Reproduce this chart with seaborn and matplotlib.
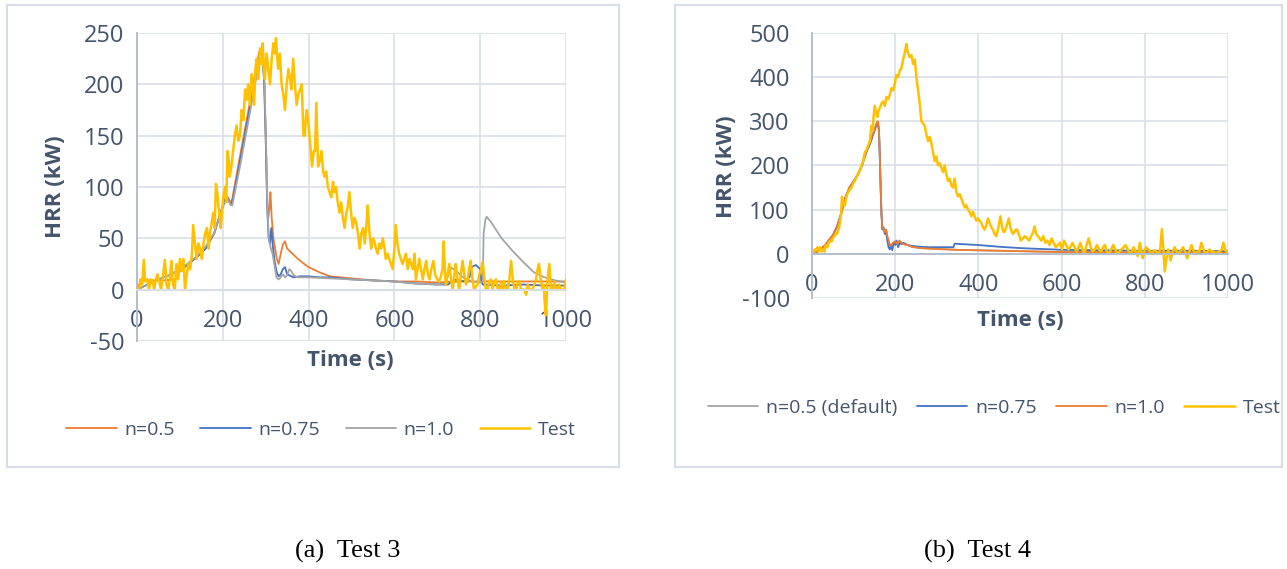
import matplotlib
matplotlib.use("Agg")
import matplotlib.pyplot as plt
from matplotlib.patches import Rectangle
import seaborn as sns
import numpy as np

# ---------------- DATA: Test 3 ----------------
t3_test_time = [0, 5, 8, 12, 16, 19, 24, 28, 32, 36, 40, 44, 48, 52, 56, 60, 65, 69, 73, 77, 80, 84, 88, 92, 96,
                100, 104, 108, 112, 116, 120, 124, 128, 131, 135, 139, 143, 147, 151, 155, 159, 163, 167, 170, 174,
                178, 181, 184, 187, 190, 193, 195, 198, 201, 205, 208, 211, 214, 216, 220, 224, 228, 232, 236, 240,
                244, 248, 252, 256, 259, 263, 267, 270, 273, 276, 279, 283, 287, 290, 293, 296, 298, 302, 306, 310,
                314, 318, 321, 324, 327, 329, 333, 337, 341, 345, 349, 353, 357, 360, 364, 368, 372, 376, 380, 384,
                388, 391, 394, 396, 400, 404, 408, 412, 415, 418, 422, 426, 430, 434, 437, 441, 445, 449, 453, 457,
                460, 464, 468, 472, 476, 480, 484, 488, 491, 495, 499, 503, 507, 511, 515, 519, 523, 527, 531, 535,
                538, 542, 546, 550, 553, 557, 561, 565, 569, 573, 577, 580, 584, 588, 592, 596, 600, 603, 607, 611,
                615, 619, 623, 627, 631, 635, 639, 643, 647, 650, 654, 658, 662, 666, 670, 674, 678, 682, 686, 691,
                695, 700, 704, 708, 712, 715, 718, 720, 724, 728, 732, 736, 740, 743, 747, 751, 755, 759, 763, 767,
                771, 774, 778, 782, 786, 790, 794, 798, 802, 806, 810, 813, 817, 821, 825, 829, 833, 837, 841, 845,
                849, 852, 856, 860, 864, 868, 872, 876, 880, 884, 888, 892, 895, 899, 903, 907, 911, 914, 918, 922,
                926, 930, 934, 937, 941, 945, 948, 950, 953, 957, 961, 965, 969, 973, 977, 980, 984, 988, 992, 996,
                1000]
t3_test = [0, 0, 10, 5, 29, 8, 10, 0, 10, 9, 0, 10, 15, 8, 0, 12, 29, 5, 0, 12, 28, 5, 0, 25, 10,
           30, 18, 30, 0, 15, 25, 20, 35, 63, 45, 30, 45, 40, 30, 45, 55, 60, 40, 55, 65,
           75, 60, 103, 95, 80, 70, 60, 75, 90, 100, 85, 135, 125, 110, 120, 135, 150, 160, 145, 150,
           175, 165, 195, 185, 200, 180, 210, 195, 180, 215, 225, 205, 235, 220, 240, 215, 205, 230, 215, 200,
           225, 240, 230, 245, 225, 215, 230, 200, 190, 175, 200, 215, 205, 195, 225, 200, 180, 190, 195, 200,
           150, 150, 170, 175, 160, 140, 120, 135, 135, 182, 120, 125, 135, 115, 110, 115, 100, 95, 90, 105,
           95, 100, 85, 75, 85, 70, 60, 75, 80, 95, 75, 60, 70, 65, 55, 40, 55, 60, 45, 65,
           82, 55, 40, 50, 48, 40, 35, 45, 40, 50, 40, 30, 35, 30, 25, 20, 40, 63, 45, 35,
           30, 25, 30, 35, 20, 30, 25, 20, 35, 10, 20, 30, 20, 10, 20, 28, 15, 10, 20, 28,
           15, 10, 8, 12, 20, 47, 15, 5, 15, 25, 10, 0, 15, 25, 10, 0, 15, 28, 15, 5,
           10, 20, 28, 10, 0, 3, 5, 15, 20, 27, 10, 0, 0, 8, 10, 0, 8, 10, 0, 0,
           8, 0, 8, 0, 0, 10, 28, 10, 0, 0, 8, 8, 0, 0, 0, -5, 5, 0, 0, 0,
           5, 10, 20, 25, 10, 0, 5, -10, -25, 10, 25, 0, 0, 8, 0, 0, 5, 0, 0, 0,
           10]

t3_n05_time = [0, 8, 12, 60, 90, 100, 120, 140, 160, 180, 195, 205, 212, 218, 222, 240, 260, 275, 285, 290,
               295, 300, 303, 306, 309, 311, 314, 318, 322, 326, 330, 335, 340, 345, 350, 360, 375, 390, 400,
               425, 450, 500, 550, 600, 650, 700, 750, 800, 850, 900, 950, 1000]
t3_n05 = [0, 8, 9, 9, 10, 18, 25, 32, 40, 55, 75, 88, 90, 85, 88, 130, 175, 210, 232, 230,
          215, 150, 90, 70, 80, 95, 70, 50, 40, 30, 25, 35, 44, 47, 40, 36, 30, 25, 22,
          17, 13, 11, 9, 8, 8, 7, 8, 8, 8, 8, 8, 8]

t3_n075_time = [0, 20, 50, 80, 100, 120, 140, 160, 180, 195, 205, 212, 218, 222, 240, 260, 275, 285, 292, 297,
                301, 304, 307, 310, 313, 316, 320, 325, 330, 335, 340, 345, 350, 355, 365, 380, 400, 425, 450,
                500, 550, 600, 650, 700, 725, 740, 760, 775, 780, 790, 800, 803, 806, 850, 900, 950, 1000]
t3_n075 = [0, 4, 10, 15, 20, 25, 32, 40, 55, 75, 88, 88, 83, 85, 125, 170, 205, 225, 228, 200,
           130, 75, 50, 45, 60, 45, 30, 18, 13, 15, 20, 22, 15, 14, 12, 13, 13, 12, 12,
           10, 9, 8, 6, 5, 5, 10, 8, 12, 22, 24, 20, 8, 5, 4, 5, 4, 4]

t3_n10_time = [0, 20, 50, 80, 100, 120, 140, 160, 180, 195, 205, 212, 218, 222, 240, 260, 275, 285, 292, 297,
               301, 304, 307, 312, 316, 320, 325, 330, 335, 340, 345, 350, 355, 360, 365, 375, 400, 450, 500,
               550, 600, 650, 700, 720, 730, 745, 760, 780, 800, 806, 808, 812, 815, 825, 850, 875, 900, 925,
               950, 975, 1000]
t3_n10 = [0, 4, 10, 15, 20, 26, 33, 42, 55, 75, 85, 88, 83, 82, 120, 165, 200, 220, 225, 205,
          140, 80, 50, 40, 35, 25, 12, 10, 12, 15, 12, 14, 20, 18, 14, 12, 12, 11, 10,
          9, 8, 6, 5, 6, 22, 18, 12, 8, 7, 8, 55, 68, 71, 66, 50, 38, 27, 17,
          12, 9, 7]

# ---------------- DATA: Test 4 ----------------
t4_test_time = [0, 4, 7, 10, 13, 16, 20, 23, 27, 30, 33, 37, 40, 44, 47, 50, 54, 57, 60, 64, 67, 70, 72, 75, 79,
                83, 87, 91, 95, 99, 103, 107, 111, 115, 119, 123, 127, 131, 135, 139, 141, 143, 146, 148, 151,
                154, 157, 160, 163, 167, 171, 175, 179, 183, 187, 191, 195, 199, 203, 207, 211, 215, 219, 223,
                227, 229, 231, 235, 239, 243, 247, 249, 251, 255, 259, 263, 267, 271, 275, 279, 283, 287, 291,
                295, 299, 303, 307, 311, 315, 319, 323, 327, 331, 335, 339, 343, 347, 351, 355, 359, 363, 367,
                371, 375, 379, 383, 387, 391, 395, 399, 403, 407, 411, 415, 419, 423, 427, 431, 435, 439, 443,
                447, 450, 453, 457, 460, 463, 467, 470, 473, 477, 480, 483, 487, 490, 493, 497, 502, 507, 512,
                517, 522, 527, 532, 535, 539, 543, 547, 551, 556, 561, 566, 571, 576, 581, 586, 591, 596, 601,
                606, 611, 616, 621, 626, 631, 636, 641, 645, 650, 655, 660, 665, 670, 675, 680, 685, 690, 695,
                700, 704, 709, 714, 719, 724, 729, 734, 739, 744, 749, 754, 759, 764, 769, 773, 778, 783, 788,
                792, 795, 799, 803, 808, 813, 818, 823, 828, 833, 837, 841, 844, 848, 852, 856, 859, 862, 867,
                872, 877, 882, 887, 892, 897, 902, 907, 912, 916, 921, 926, 931, 936, 941, 946, 951, 956, 961,
                966, 971, 976, 981, 985, 989, 993, 996, 1000]
t4_test = [0, 3, 10, 8, 15, 5, 15, 5, 10, 5, 20, 15, 25, 30, 28, 35, 40, 45, 45, 55, 70, 90, 129, 110, 110,
           130, 140, 145, 150, 160, 165, 175, 180, 190, 200, 210, 230, 235, 245, 255, 275, 290, 280, 310, 335,
           320, 310, 325, 330, 340, 345, 335, 355, 350, 360, 375, 370, 385, 405, 400, 415, 420, 440, 455,
           475, 460, 455, 445, 450, 430, 440, 420, 400, 370, 340, 300, 295, 290, 270, 255, 265, 250, 230,
           210, 220, 200, 205, 195, 185, 200, 180, 165, 170, 155, 150, 170, 140, 130, 135, 125, 115, 105,
           110, 100, 95, 85, 95, 85, 75, 80, 75, 70, 60, 55, 65, 80, 70, 60, 55, 45, 40,
           55, 70, 85, 60, 50, 50, 60, 70, 80, 60, 50, 45, 50, 55, 55, 45, 30, 35, 40,
           35, 30, 40, 50, 62, 45, 40, 35, 30, 40, 25, 30, 20, 35, 25, 15, 20, 25, 10,
           30, 20, 10, 15, 25, 15, 5, 15, 25, 10, 0, 20, 35, 15, 5, 10, 20, 10, 5,
           15, 20, 5, 0, 10, 20, 10, 0, 5, 10, 15, 20, 10, 0, 5, 15, 5, -5, 25,
           5, -10, 5, 15, 10, 5, 3, 8, 5, 0, 10, 56, 20, -40, -10, 10, 0, -15, 5,
           15, 5, 0, 8, 15, 5, -10, 5, 20, 10, 0, 5, 5, 25, 10, 0, 5, 10, 5,
           5, 0, 5, 5, 10, 25, 10, 5, 5]

t4_n10_time = [0, 10, 20, 30, 40, 50, 60, 70, 80, 90, 100, 110, 120, 130, 140, 150, 155, 158, 161, 163,
               165, 167, 169, 172, 175, 178, 181, 184, 187, 190, 195, 200, 205, 210, 215, 220, 230, 240, 260,
               280, 300, 350, 400, 450, 500, 600, 700, 800, 900, 1000]
t4_n10 = [0, 3, 10, 18, 30, 42, 60, 90, 125, 150, 163, 180, 200, 230, 255, 280, 295, 300, 280, 220,
          150, 90, 60, 55, 50, 55, 40, 30, 20, 18, 25, 28, 22, 30, 25, 22, 20, 16, 13,
          12, 11, 9, 8, 7, 6, 4, 4, 3, 3, 3]

t4_n05_time = t4_n10_time
t4_n05 = t4_n10

t4_n075_time = [0, 10, 20, 30, 40, 50, 60, 70, 80, 90, 100, 110, 120, 130, 140, 150, 155, 158, 161, 163,
                165, 167, 169, 172, 175, 178, 181, 184, 187, 190, 193, 196, 200, 203, 207, 211, 215, 220, 230,
                240, 260, 280, 300, 320, 340, 343, 360, 400, 450, 500, 550, 580, 600, 700, 800, 900, 1000]
t4_n075 = [0, 3, 10, 18, 30, 42, 62, 92, 128, 150, 165, 178, 200, 228, 250, 278, 292, 298, 280, 220,
           150, 90, 55, 60, 45, 50, 30, 15, 10, 20, 8, 25, 20, 30, 15, 25, 22, 25, 20,
           18, 16, 15, 15, 15, 15, 23, 22, 20, 16, 13, 11, 10, 9, 8, 7, 7, 6]

x_ticks = [0, 200, 400, 600, 800, 1000]
y_ticks_3 = [-50, 0, 50, 100, 150, 200, 250]
y_ticks_4 = [-100, 0, 100, 200, 300, 400, 500]

# ---------------- STYLE ----------------
sns.set_theme(style="white")
plt.rcParams['font.family'] = ['Open Sans', 'DejaVu Sans']

ORANGE = "#ED7D31"
BLUE = "#4472C4"
GRAY = "#A5A5A5"
GOLD = "#FFC000"
TXT = "#44546A"
GRID = "#D9DEE6"
AXIS = "#B4BECC"

W, H = 1287, 569
fig = plt.figure(figsize=(W / 100, H / 100), dpi=100)
fig.patch.set_facecolor("white")


def px_axes(x0, x1, y0, y1):
    return fig.add_axes([x0 / W, 1 - y1 / H, (x1 - x0) / W, (y1 - y0) / H])


def frame_box(x0, x1, y0, y1):
    fig.add_artist(Rectangle((x0 / W, 1 - y1 / H), (x1 - x0) / W, (y1 - y0) / H,
                             transform=fig.transFigure, fill=False, edgecolor=GRID, lw=1.6))


def style_axes(ax, yticks, zero_color, ytick_pad, ylab_xy, xlab_xy):
    ax.set_xlim(0, 1000)
    ax.set_ylim(yticks[0], yticks[-1])
    ax.set_xticks(x_ticks)
    ax.set_yticks(yticks)
    ax.set_xticklabels([str(v) for v in x_ticks])
    ax.set_yticklabels([str(v) for v in yticks])
    ax.grid(True, color=GRID, lw=1.2)
    ax.set_axisbelow(True)
    for s in ["top", "right"]:
        ax.spines[s].set_visible(False)
    ax.spines["left"].set_color(AXIS)
    ax.spines["left"].set_linewidth(1.4)
    ax.spines["bottom"].set_position(("data", 0))
    ax.spines["bottom"].set_color(zero_color)
    ax.spines["bottom"].set_linewidth(1.4)
    ax.tick_params(axis="x", length=0, pad=14, labelsize=17, labelcolor=TXT)
    ax.tick_params(axis="y", length=0, pad=ytick_pad, labelsize=17, labelcolor=TXT)
    ax.set_xlabel("Time (s)", fontsize=16, fontweight="bold", color=TXT)
    ax.set_ylabel("HRR (kW)", fontsize=16, fontweight="bold", color=TXT)
    ax.yaxis.set_label_coords(*ylab_xy)
    ax.xaxis.set_label_coords(*xlab_xy)


# boxes
frame_box(7, 619, 5, 467)
frame_box(675, 1282, 5, 467)

# ---------- Test 3 ----------
ax1 = px_axes(137, 566, 33, 341)
sns.lineplot(x=t3_n05_time, y=t3_n05, ax=ax1, color=ORANGE, lw=1.3, label="n=0.5", estimator=None, sort=False)
sns.lineplot(x=t3_n075_time, y=t3_n075, ax=ax1, color=BLUE, lw=1.3, label="n=0.75", estimator=None, sort=False)
sns.lineplot(x=t3_n10_time, y=t3_n10, ax=ax1, color=GRAY, lw=1.3, label="n=1.0", estimator=None, sort=False)
sns.lineplot(x=t3_test_time, y=t3_test, ax=ax1, color=GOLD, lw=1.8, label="Test", estimator=None, sort=False)
style_axes(ax1, y_ticks_3, GRID, 9, (-0.166, 0.5), (0.497, -0.03))
ax1.legend(loc="center", bbox_to_anchor=(321 / W, 1 - 430 / H), bbox_transform=fig.transFigure,
           ncol=4, frameon=False, fontsize=14, labelcolor=TXT, handlelength=2.6, handletextpad=0.4,
           columnspacing=1.3)

# ---------- Test 4 ----------
ax2 = px_axes(812, 1228, 33, 298)
sns.lineplot(x=t4_n05_time, y=t4_n05, ax=ax2, color=GRAY, lw=1.3, label="n=0.5 (default)", estimator=None, sort=False)
sns.lineplot(x=t4_n075_time, y=t4_n075, ax=ax2, color=BLUE, lw=1.3, label="n=0.75", estimator=None, sort=False)
sns.lineplot(x=t4_n10_time, y=t4_n10, ax=ax2, color=ORANGE, lw=1.3, label="n=1.0", estimator=None, sort=False)
sns.lineplot(x=t4_test_time, y=t4_test, ax=ax2, color=GOLD, lw=1.8, label="Test", estimator=None, sort=False)
style_axes(ax2, y_ticks_4, AXIS, 16, (-0.180, 0.494), (0.5, -0.045))
ax2.legend(loc="center", bbox_to_anchor=(994 / W, 1 - 408 / H), bbox_transform=fig.transFigure,
           ncol=4, frameon=False, fontsize=14, labelcolor=TXT, handlelength=2.6, handletextpad=0.4,
           columnspacing=1.0)

# captions
fig.text(348 / W, 1 - 551 / H, "(a)  Test 3", ha="center", va="center",
         family=["Liberation Serif", "DejaVu Serif"], fontsize=19, color="black")
fig.text(977 / W, 1 - 551 / H, "(b)  Test 4", ha="center", va="center",
         family=["Liberation Serif", "DejaVu Serif"], fontsize=19, color="black")

fig.savefig("out.png", dpi=100, facecolor="white")
